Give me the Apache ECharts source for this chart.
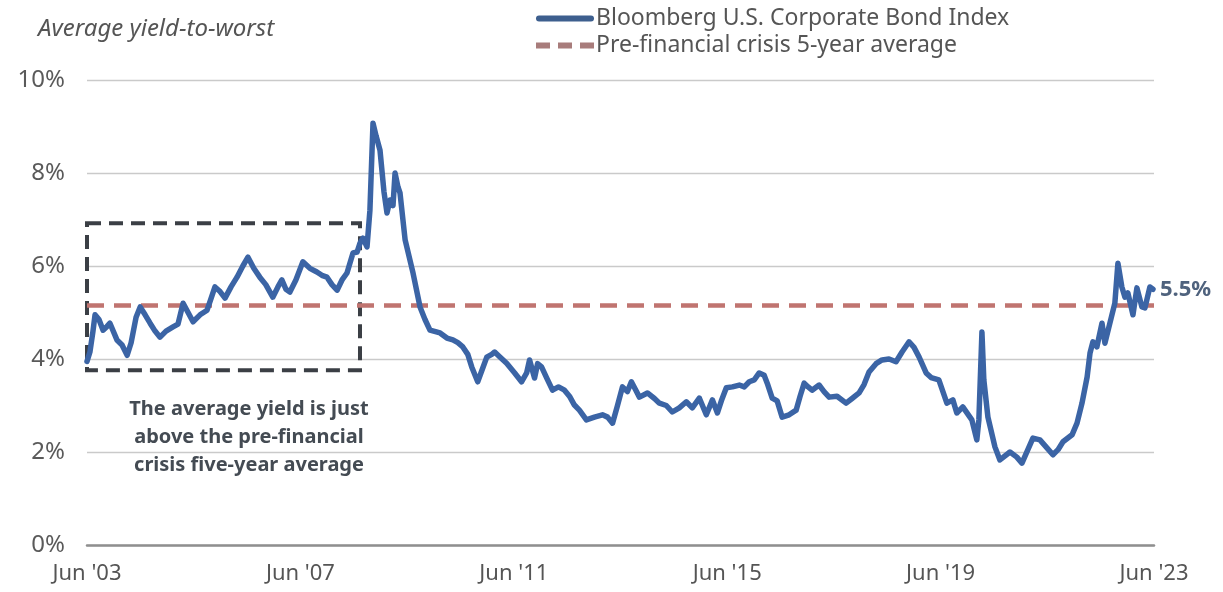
<!DOCTYPE html>
<html>
<head>
<meta charset="utf-8">
<script src="https://cdn.jsdelivr.net/npm/echarts@6/dist/echarts.min.js"></script>
<style>
html,body{margin:0;padding:0;background:#fff;}
#chart{width:1223px;height:592px;}
</style>
</head>
<body>
<div id="chart"></div>
<script>
// ---- Data ----
const seriesName = 'Bloomberg U.S. Corporate Bond Index';
const avgName = 'Pre-financial crisis 5-year average';
const startDate = '2003-06-01';
const xTickLabels = ["Jun '03", "Jun '07", "Jun '11", "Jun '15", "Jun '19", "Jun '23"];
const yTickLabels = ['0%', '2%', '4%', '6%', '8%', '10%'];

const dates = [
'2003-06-01','2003-06-21','2003-07-12','2003-07-26','2003-08-22','2003-09-19','2003-10-16','2003-11-05','2003-12-23',
'2004-01-27','2004-03-02','2004-03-29','2004-05-02','2004-05-30','2004-07-03','2004-08-06','2004-09-09','2004-10-13','2004-11-23',
'2005-01-10','2005-02-13','2005-03-20','2005-04-23','2005-05-27','2005-07-14','2005-08-31','2005-09-27','2005-10-24','2005-11-28',
'2006-01-01','2006-02-11','2006-03-24','2006-05-03','2006-06-07','2006-07-17','2006-08-27','2006-10-07','2006-11-24','2006-12-29',
'2007-01-25','2007-02-22','2007-03-21','2007-05-01','2007-06-18','2007-08-05','2007-09-22','2007-10-26','2007-11-30',
'2008-01-03','2008-02-07','2008-03-12','2008-04-15','2008-05-26','2008-06-23','2008-07-13','2008-08-02','2008-08-30','2008-09-19',
'2008-10-10','2008-10-31','2008-11-27','2008-12-24',
'2009-01-14','2009-02-04','2009-02-24','2009-03-10','2009-03-30','2009-04-13','2009-05-18','2009-07-11','2009-08-28','2009-10-01','2009-11-04',
'2010-01-12','2010-02-28','2010-04-10','2010-05-14','2010-06-17','2010-07-21','2010-08-17','2010-09-27','2010-10-31','2010-11-28',
'2011-01-01','2011-01-21','2011-02-24','2011-04-13','2011-06-07','2011-07-24','2011-08-28','2011-09-17','2011-10-21','2011-11-11','2011-12-08',
'2012-01-11','2012-02-21','2012-04-02','2012-05-13','2012-06-16','2012-07-20','2012-08-23','2012-10-10','2012-12-04',
'2013-01-28','2013-03-04','2013-04-07','2013-05-11','2013-06-14','2013-07-18','2013-08-14','2013-09-10','2013-10-08','2013-12-02',
'2014-01-19','2014-02-22','2014-04-10','2014-05-21','2014-07-08','2014-08-25','2014-10-05','2014-11-22',
'2015-01-09','2015-02-20','2015-03-26','2015-04-22','2015-05-26','2015-07-06','2015-08-23','2015-09-26','2015-10-30','2015-12-03',
'2016-01-06','2016-02-09','2016-03-01','2016-04-04','2016-05-08','2016-06-11','2016-07-29','2016-09-15','2016-10-12','2016-11-09','2016-12-06',
'2017-01-02','2017-02-19','2017-03-25','2017-04-29','2017-06-22','2017-08-23','2017-10-03','2017-11-20','2017-12-24',
'2018-01-27','2018-03-16','2018-04-26','2018-06-13','2018-07-31','2018-09-10','2018-10-28','2018-12-01',
'2019-01-05','2019-02-22','2019-03-28','2019-05-20','2019-07-14','2019-08-24','2019-09-20','2019-10-31',
'2020-01-01','2020-02-04','2020-02-18','2020-03-10','2020-03-23','2020-04-20','2020-06-07','2020-07-11','2020-09-18','2020-11-04','2020-12-09',
'2021-02-22','2021-04-11','2021-05-29','2021-07-09','2021-08-13','2021-09-16','2021-11-17','2021-12-21',
'2022-01-24','2022-02-28','2022-03-20','2022-04-09','2022-05-06','2022-06-10','2022-06-30','2022-08-03','2022-09-06','2022-09-27',
'2022-10-24','2022-11-14','2022-12-04',
'2023-01-08','2023-02-04','2023-03-10','2023-03-31','2023-05-04','2023-05-25'
];
const yields = [
3.95,4.15,4.6,4.95,4.85,4.62,4.7,4.77,4.41,
4.3,4.08,4.35,4.9,5.12,4.95,4.77,4.6,4.47,4.6,
4.69,4.75,5.2,5.0,4.8,4.95,5.05,5.3,5.55,5.45,
5.31,5.55,5.76,6.0,6.19,5.95,5.76,5.6,5.33,5.55,
5.70,5.5,5.44,5.7,6.09,5.95,5.87,5.8,5.76,
5.6,5.48,5.7,5.85,6.28,6.3,6.49,6.6,6.41,7.2,
9.07,8.8,8.49,7.6,
7.14,7.42,7.3,8.0,7.7,7.57,6.56,5.85,5.12,4.85,4.62,
4.56,4.45,4.41,4.35,4.26,4.1,3.83,3.51,3.8,4.04,
4.1,4.15,4.05,3.91,3.7,3.51,3.7,3.98,3.59,3.9,3.83,
3.6,3.33,3.4,3.33,3.2,3.01,2.9,2.69,2.75,
2.80,2.75,2.62,3.0,3.40,3.3,3.51,3.35,3.18,3.27,
3.15,3.05,3.0,2.86,2.95,3.08,2.95,3.16,
2.80,3.12,2.84,3.1,3.38,3.4,3.44,3.4,3.51,3.55,
3.70,3.65,3.48,3.16,3.1,2.75,2.8,2.90,3.2,3.48,3.4,
3.33,3.44,3.3,3.18,3.2,3.05,3.15,3.27,3.45,
3.72,3.9,3.98,4.0,3.94,4.15,4.37,4.25,
4.04,3.70,3.6,3.55,3.05,3.12,2.84,2.97,
2.69,2.26,2.69,4.58,3.55,2.75,2.11,1.83,2.0,1.89,1.76,
2.30,2.26,2.09,1.94,2.05,2.22,2.37,2.62,
3.05,3.61,4.13,4.37,4.26,4.77,4.34,4.77,5.2,6.06,
5.55,5.33,5.42,
4.95,5.53,5.12,5.1,5.55,5.5
];
const endLabelText = '5.5%';

const avgDates = ['2003-06-01', '2023-06-01'];
const avgValues = [5.15, 5.15];

// dashed highlight box (date range and yield range)
const boxDates = ['2003-06-01', '2008-07-13'];
const boxYields = [6.92, 3.76];
const annotationLines = ['The average yield is just', 'above the pre-financial', 'crisis five-year average'];

// ---- helpers ----
const DAY = 86400000;
function yearsSinceStart(d) {
  return (Date.parse(d) - Date.parse(startDate)) / (365.25 * DAY);
}
const lineData = dates.map((d, i) => [yearsSinceStart(d), yields[i]]);
const avgData = avgDates.map((d, i) => [yearsSinceStart(d), avgValues[i]]);

const FONT = '"Noto Sans", "Open Sans", sans-serif';
const BLUE = '#3b64a5';
const RED = '#c07470';
const LEG_BLUE = '#3d5f8e';
const LEG_RED = '#a87c7b';

const chart = echarts.init(document.getElementById('chart'), null, {renderer: 'canvas'});
chart.setOption({
  animation: false,
  backgroundColor: '#ffffff',
  textStyle: {fontFamily: FONT},
  title: {
    text: 'Average yield-to-worst',
    left: 33, top: 12,
    textStyle: {fontFamily: FONT, fontStyle: 'italic', fontWeight: 'normal', fontSize: 24, color: '#555'}
  },
  legend: {
    orient: 'vertical',
    left: 531, top: 2,
    itemWidth: 58, itemHeight: 6, itemGap: 4,
    textStyle: {fontFamily: FONT, fontSize: 23, color: '#555', padding: [0, 0, 0, -3]},
    data: [
      {name: seriesName, icon: 'path://M3,0H55A3,3 0 0 1 55,6H3A3,3 0 0 1 3,0Z', itemStyle: {color: LEG_BLUE}},
      {name: avgName, icon: 'path://M0,0H14V6H0Z M22,0H36V6H22Z M44,0H58V6H44Z', itemStyle: {color: LEG_RED}}
    ]
  },
  grid: {left: 87, right: 69, top: 80, bottom: 47, containLabel: false},
  xAxis: {
    type: 'value',
    min: 0, max: 20, interval: 4,
    axisLine: {show: true, onZero: true, lineStyle: {color: '#8f8f8f', width: 2.5}},
    axisTick: {show: false},
    splitLine: {show: false},
    axisLabel: {
      fontFamily: FONT, fontSize: 22, color: '#555', margin: 18,
      formatter: v => xTickLabels[Math.round(v / 4)]
    }
  },
  yAxis: {
    type: 'value',
    min: 0, max: 10, interval: 2,
    axisLine: {show: false},
    axisTick: {show: false},
    splitLine: {lineStyle: {color: '#cacaca', width: 1.3}},
    axisLabel: {
      fontFamily: FONT, fontSize: 24, color: '#5a5a5a', margin: 22,
      formatter: v => yTickLabels[Math.round(v / 2)]
    }
  },
  series: [
    {
      name: avgName,
      type: 'line',
      data: avgData,
      symbol: 'none',
      z: 2,
      lineStyle: {color: RED, width: 4.5, type: [17, 10]},
      itemStyle: {color: RED}
    },
    {
      name: seriesName,
      type: 'line',
      data: lineData,
      symbol: 'none',
      z: 3,
      lineStyle: {color: BLUE, width: 5.5, join: 'round', cap: 'round'},
      itemStyle: {color: BLUE},
      endLabel: {
        show: true,
        formatter: endLabelText,
        fontFamily: FONT, fontSize: 22, fontWeight: 'bold', color: '#4f627d',
        distance: 7
      },
      markArea: {
        silent: true,
        itemStyle: {color: 'rgba(0,0,0,0)', borderColor: '#3b3f45', borderWidth: 4, borderType: [14, 8]},
        label: {show: false},
        data: [[
          {xAxis: yearsSinceStart(boxDates[0]), yAxis: boxYields[0]},
          {xAxis: yearsSinceStart(boxDates[1]), yAxis: boxYields[1]}
        ]]
      }
    }
  ],
  graphic: [{
    type: 'text',
    x: 249, y: 395,
    style: {
      text: annotationLines.join('\n'),
      font: 'bold 20px ' + FONT,
      fill: '#444b53',
      align: 'center',
      verticalAlign: 'top',
      lineHeight: 28
    }
  }]
});
</script>
</body>
</html>
